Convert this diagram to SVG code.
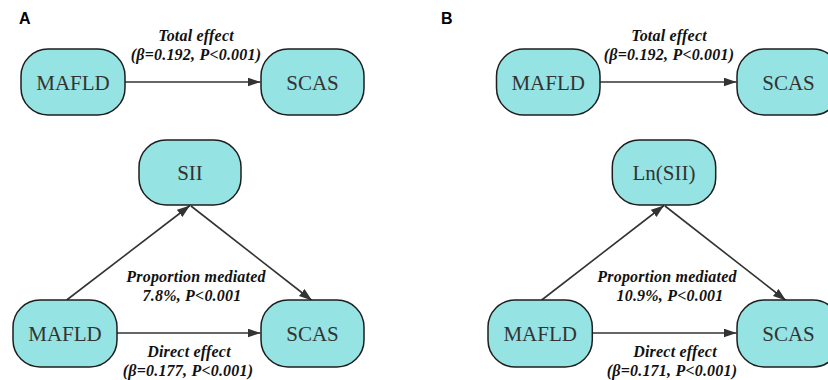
<svg xmlns="http://www.w3.org/2000/svg" width="828" height="380" viewBox="0 0 828 380">
<style>
.node rect{fill:#95e3e3;stroke:#1e1e1e;stroke-width:1.5}
.node text{font-family:"Liberation Serif","Times New Roman",serif;font-size:21px;fill:#333;text-anchor:middle}
.edge{stroke:#333;stroke-width:1.6;fill:none;marker-end:url(#ah)}
.lbl{font-family:"Liberation Serif","Times New Roman",serif;font-size:16px;font-weight:bold;font-style:italic;fill:#111;text-anchor:middle;letter-spacing:0.2px}
.panel{font-family:"Liberation Sans",sans-serif;font-size:16px;font-weight:bold;fill:#000}
</style>
<defs>
<marker id="ah" markerUnits="userSpaceOnUse" markerWidth="14" markerHeight="10" refX="13" refY="4.5" orient="auto">
<path d="M0,0 L13,4.5 L0,9 z" fill="#333"/>
</marker>
</defs>
<rect width="828" height="380" fill="#fff"/>
<text class="panel" x="19" y="24">A</text>
<text class="panel" x="441" y="24">B</text>
<g id="connectors">
<line class="edge" x1="125" y1="82" x2="260.5" y2="82"/>
<line class="edge" x1="66.7" y1="300" x2="190" y2="205.5"/>
<line class="edge" x1="191" y1="206" x2="312" y2="300.5"/>
<line class="edge" x1="117" y1="333" x2="260.5" y2="333"/>
<line class="edge" x1="600" y1="82" x2="736.5" y2="82"/>
<line class="edge" x1="541.7" y1="300" x2="664" y2="205.5"/>
<line class="edge" x1="665" y1="206" x2="786" y2="300.5"/>
<line class="edge" x1="592.3" y1="333" x2="736.5" y2="333"/>
</g>
<g id="labels">
<text class="lbl" x="196" y="41">Total effect</text>
<text class="lbl" x="196" y="60">(β=0.192, P&lt;0.001)</text>
<text class="lbl" x="196" y="282">Proportion mediated</text>
<text class="lbl" x="192" y="301">7.8%, P&lt;0.001</text>
<text class="lbl" x="189" y="357">Direct effect</text>
<text class="lbl" x="188" y="376">(β=0.177, P&lt;0.001)</text>
<text class="lbl" x="669" y="41">Total effect</text>
<text class="lbl" x="669" y="60">(β=0.192, P&lt;0.001)</text>
<text class="lbl" x="667" y="282">Proportion mediated</text>
<text class="lbl" x="670" y="301">10.9%, P&lt;0.001</text>
<text class="lbl" x="675" y="357">Direct effect</text>
<text class="lbl" x="672" y="376">(β=0.171, P&lt;0.001)</text>
</g>
<g id="a_mafld_top" class="node"><rect x="21" y="49" width="104" height="66" rx="27"/><text x="73" y="89.5">MAFLD</text></g>
<g id="a_scas_top" class="node"><rect x="261" y="49" width="103" height="66" rx="27"/><text x="312.5" y="89.5">SCAS</text></g>
<g id="a_sii" class="node"><rect x="139" y="140" width="102" height="65" rx="27"/><text x="190" y="180">SII</text></g>
<g id="a_mafld" class="node"><rect x="13" y="300" width="104" height="67" rx="27"/><text x="65" y="341">MAFLD</text></g>
<g id="a_scas" class="node"><rect x="261" y="300" width="103" height="67" rx="27"/><text x="312.5" y="341">SCAS</text></g>
<g id="b_mafld_top" class="node"><rect x="496.5" y="49" width="103.5" height="66" rx="27"/><text x="548.2" y="89.5">MAFLD</text></g>
<g id="b_scas_top" class="node"><rect x="737" y="49" width="103" height="66" rx="27"/><text x="788.5" y="89.5">SCAS</text></g>
<g id="b_lnsii" class="node"><rect x="612.3" y="140" width="103.4" height="65" rx="27"/><text x="664" y="180">Ln(SII)</text></g>
<g id="b_mafld" class="node"><rect x="488" y="300" width="104.3" height="67" rx="27"/><text x="540.2" y="341">MAFLD</text></g>
<g id="b_scas" class="node"><rect x="737" y="300" width="103" height="67" rx="27"/><text x="788.5" y="341">SCAS</text></g>
</svg>
